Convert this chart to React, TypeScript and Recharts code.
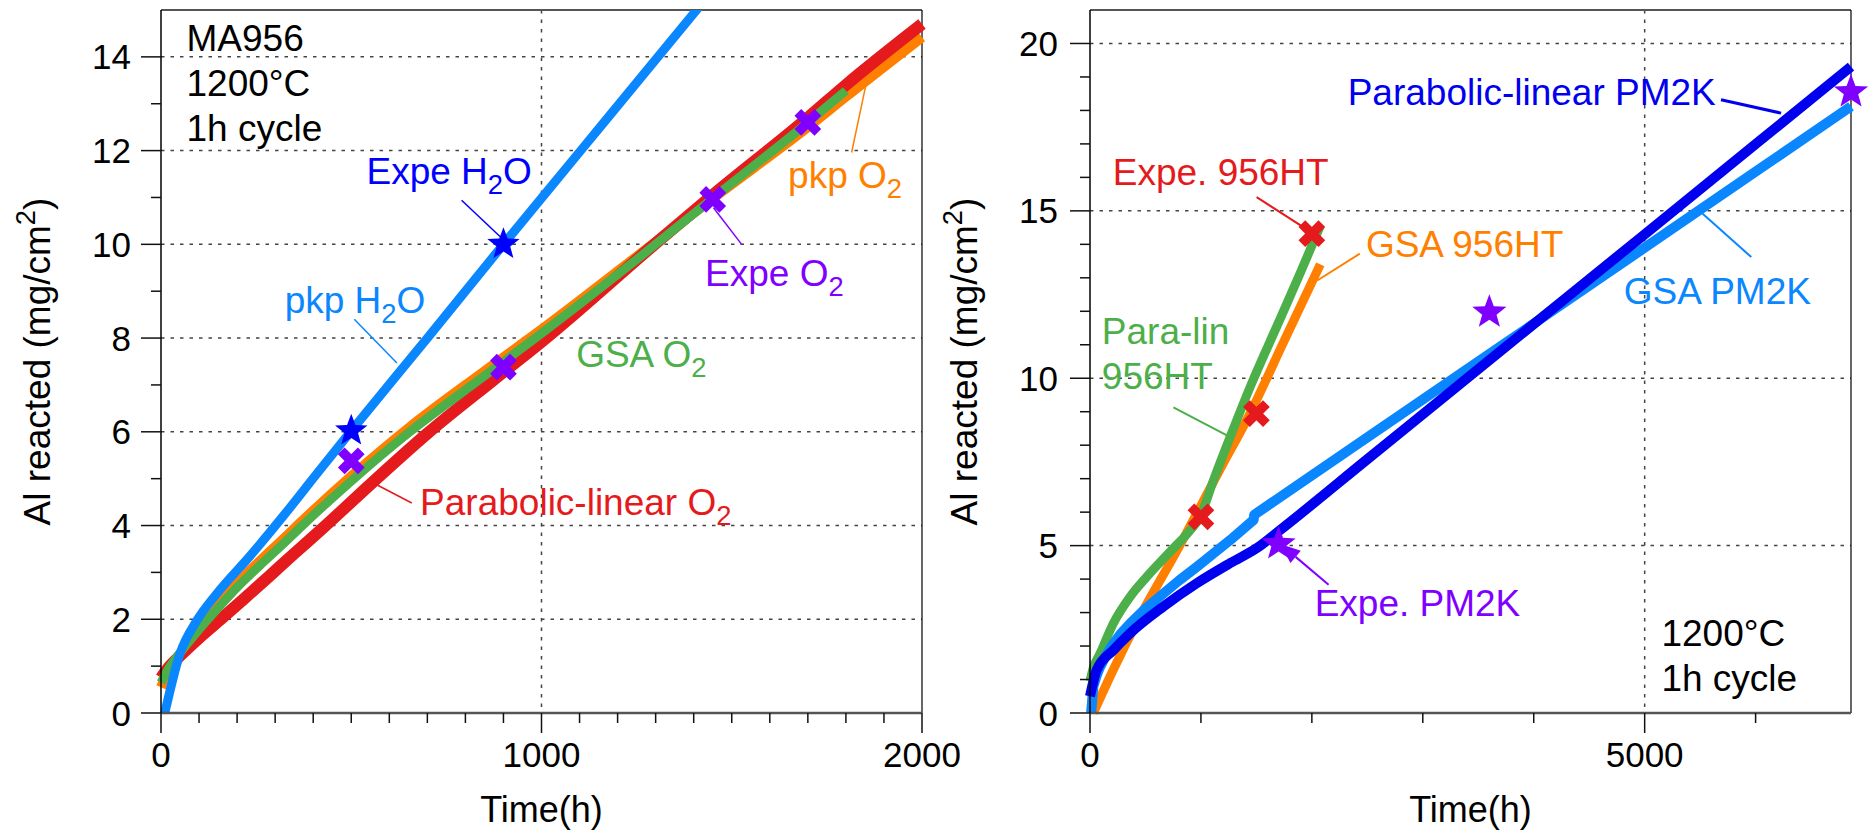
import React from "react";
import {
  ComposedChart,
  Line,
  Scatter,
  XAxis,
  YAxis,
  ReferenceLine,
  ReferenceDot,
  CartesianGrid,
} from "recharts";

const FONT = "'Liberation Sans', Arial, Helvetica, sans-serif";

const C_RED = "#E41A1C";
const C_ORANGE = "#FF7F00";
const C_GREEN = "#4DAF4A";
const C_LBLUE = "#0A86FF";
const C_DBLUE = "#0000EE";
const C_BLUE = "#0000FF";
const C_PURPLE = "#7F00FF";

// ---------------- Left panel (MA956) ----------------
const leftXTicks = [0, 100, 200, 300, 400, 500, 600, 700, 800, 900, 1000, 1100, 1200, 1300, 1400, 1500, 1600, 1700, 1800, 1900, 2000];
const leftXMajor = [0, 1000, 2000];
const leftYTicks = [0, 1, 2, 3, 4, 5, 6, 7, 8, 9, 10, 11, 12, 13, 14];
const leftYMajor = [0, 2, 4, 6, 8, 10, 12, 14];

const pkpH2OTime = [10, 50, 94, 146, 234, 321, 409, 500, 700, 900, 1100, 1300, 1450];
const pkpH2OVal = [0, 1.27, 1.97, 2.54, 3.35, 4.2, 5.1, 6.02, 8.0, 10.0, 11.97, 13.94, 15.42];

const paraLinO2Time = [0, 20, 50, 100, 160, 220, 286, 350, 422, 560, 698, 873, 1000, 1300, 1450, 1700, 1800, 2000];
const paraLinO2Val = [0.75, 0.97, 1.22, 1.6, 2.02, 2.45, 2.93, 3.4, 3.92, 4.95, 5.95, 7.1, 7.92, 10.02, 11.05, 12.7, 13.4, 14.7];

const gsaO2Time = [0, 20, 50, 100, 150, 200, 260, 320, 365, 500, 654, 843, 1000, 1300, 1450, 1700, 1800];
const gsaO2Val = [0.65, 0.95, 1.28, 1.78, 2.24, 2.68, 3.15, 3.6, 3.95, 4.95, 6.0, 7.15, 8.1, 10.0, 10.98, 12.6, 13.28];

const pkpO2Time = [0, 20, 50, 100, 150, 200, 260, 320, 365, 500, 654, 843, 1000, 1300, 1450, 1700, 1800, 2000];
const pkpO2Val = [0.55, 0.9, 1.25, 1.8, 2.3, 2.76, 3.24, 3.7, 4.05, 5.05, 6.1, 7.25, 8.18, 10.05, 10.98, 12.5, 13.15, 14.42];

const expeH2OTime = [500, 900];
const expeH2OVal = [6.02, 10.0];

const expeO2Time = [500, 900, 1450, 1700];
const expeO2Val = [5.38, 7.38, 10.96, 12.6];

// ---------------- Right panel (956HT / PM2K) ----------------
const rightXTicks = [0, 1000, 2000, 3000, 4000, 5000, 6000];
const rightXMajor = [0, 5000];
const rightYTicks = [0, 1, 2, 3, 4, 5, 6, 7, 8, 9, 10, 11, 12, 13, 14, 15, 16, 17, 18, 19, 20];
const rightYMajor = [0, 5, 10, 15, 20];
const rightXMax = 6860;

const paraLin956Time = [0, 30, 90, 211, 361, 512, 723, 903, 993, 1114, 1265, 1445, 1700, 1900, 2076];
const paraLin956Val = [0.95, 1.35, 1.77, 2.68, 3.47, 4.07, 4.82, 5.46, 5.86, 6.96, 8.26, 9.75, 11.67, 13.18, 14.55];

const gsa956Time = [30, 211, 421, 800, 1200, 1420, 1748, 2076];
const gsa956Val = [0, 1.3, 2.7, 4.95, 7.45, 8.8, 11.1, 13.4];

const gsaPM2KTime = [10, 30, 60, 90, 150, 211, 280, 361, 500, 662, 800, 964, 1100, 1265, 1475, 1480, 2500, 3700, 5000, 6000, 6860];
const gsaPM2KVal = [0, 0.8, 1.12, 1.37, 1.75, 2.07, 2.38, 2.67, 3.12, 3.57, 3.95, 4.37, 4.73, 5.17, 5.77, 5.92, 8.23, 10.95, 13.9, 16.17, 18.12];

const paraLinPM2KTime = [0, 60, 211, 361, 662, 964, 1265, 1506, 1716, 2500, 3700, 5000, 6000, 6860];
const paraLinPM2KVal = [0.5, 1.28, 1.88, 2.38, 3.18, 3.88, 4.48, 4.93, 5.47, 7.58, 10.81, 14.3, 16.99, 19.31];

const expe956Time = [1000, 1500, 2000];
const expe956Val = [5.86, 8.94, 14.32];

const expePM2KTime = [1700, 3600, 6860];
const expePM2KVal = [5.05, 11.97, 18.55];

const toPts = (t: number[], v: number[]) => t.map((x, i) => ({ x, y: v[i] }));

// ---------------- Annotations ----------------
const leftNotes = [
  { text: "MA956", x: 67, y: 14.13, color: "#000" },
  { text: "1200°C", x: 67, y: 13.16, color: "#000" },
  { text: "1h cycle", x: 67, y: 12.21, color: "#000" },
  { text: "Expe H_2O", x: 540, y: 11.28, color: C_BLUE },
  { text: "pkp H_2O", x: 325, y: 8.54, color: C_LBLUE },
  { text: "pkp O_2", x: 1648, y: 11.21, color: C_ORANGE },
  { text: "Expe O_2", x: 1430, y: 9.11, color: C_PURPLE },
  { text: "GSA O_2", x: 1091, y: 7.38, color: C_GREEN },
  { text: "Parabolic-linear O_2", x: 681, y: 4.23, color: C_RED },
];

const leftLeaders = [
  { x1: 790, y1: 10.94, x2: 893, y2: 10.15, color: C_BLUE, w: 1.5 },
  { x1: 508, y1: 8.4, x2: 620, y2: 7.47, color: C_LBLUE, w: 1.5 },
  { x1: 1815, y1: 11.96, x2: 1852, y2: 13.38, color: C_ORANGE, w: 1.5 },
  { x1: 1526, y1: 10.0, x2: 1452, y2: 10.78, color: C_PURPLE, w: 1.5 },
  { x1: 659, y1: 4.48, x2: 567, y2: 4.87, color: C_RED, w: 1.5 },
];

const rightNotes = [
  { text: "Parabolic-linear PM2K", x: 2323, y: 18.15, color: C_DBLUE },
  { text: "GSA PM2K", x: 4812, y: 12.22, color: C_LBLUE },
  { text: "Expe. 956HT", x: 205, y: 15.77, color: C_RED },
  { text: "GSA 956HT", x: 2487, y: 13.62, color: C_ORANGE },
  { text: "Para-lin", x: 107, y: 11.03, color: C_GREEN },
  { text: "956HT", x: 107, y: 9.68, color: C_GREEN },
  { text: "Expe. PM2K", x: 2025, y: 2.91, color: C_PURPLE },
  { text: "1200°C", x: 5151, y: 2.01, color: "#000" },
  { text: "1h cycle", x: 5151, y: 0.67, color: "#000" },
];

const rightLeaders = [
  { x1: 5688, y1: 18.32, x2: 6230, y2: 17.92, color: C_DBLUE, w: 3 },
  { x1: 5961, y1: 13.62, x2: 5523, y2: 14.91, color: C_LBLUE, w: 2 },
  { x1: 1502, y1: 15.41, x2: 1930, y2: 14.5, color: C_RED, w: 2 },
  { x1: 2432, y1: 13.72, x2: 2049, y2: 12.92, color: C_ORANGE, w: 2 },
  { x1: 752, y1: 9.13, x2: 1234, y2: 8.29, color: C_GREEN, w: 2 },
];

const rightArrow = { x1: 2151, y1: 3.83, x2: 1716, y2: 5.05, color: C_PURPLE, w: 2 };

// ---------------- helpers ----------------
function Rich({ s, fs }: { s: string; fs: number }) {
  const parts = s.split(/([_^]\d)/).filter((p) => p !== "");
  let cur = 0;
  return (
    <>
      {parts.map((p, i) => {
        if (p[0] === "_" || p[0] === "^") {
          const off = p[0] === "_" ? fs * 0.27 : -fs * 0.4;
          const dy = off - cur;
          cur = off;
          return (
            <tspan key={i} dy={dy} fontSize={fs * 0.74}>
              {p.slice(1)}
            </tspan>
          );
        }
        const dy = -cur;
        cur = 0;
        return (
          <tspan key={i} dy={dy}>
            {p}
          </tspan>
        );
      })}
    </>
  );
}

const NOTE_FS = 37;
const noteShape = (text: string, color: string) => (p: any) => (
  <text x={p.cx} y={p.cy} fill={color} fontSize={NOTE_FS} fontFamily={FONT}>
    <Rich s={text} fs={NOTE_FS} />
  </text>
);

const starPoints = (cx: number, cy: number, R: number, r: number) => {
  const pts: string[] = [];
  for (let i = 0; i < 10; i++) {
    const a = ((-90 + i * 36) * Math.PI) / 180;
    const rad = i % 2 === 0 ? R : r;
    pts.push(`${cx + rad * Math.cos(a)},${cy + rad * Math.sin(a)}`);
  }
  return pts.join(" ");
};

const starShape = (color: string, R: number) => (p: any) => (
  <polygon points={starPoints(p.cx, p.cy, R, R * 0.42)} fill={color} />
);

const crossShape = (color: string) => (p: any) => (
  <path
    d={`M${p.cx - 10},${p.cy - 10}L${p.cx + 10},${p.cy + 10}M${p.cx - 10},${p.cy + 10}L${p.cx + 10},${p.cy - 10}`}
    stroke={color}
    strokeWidth={9.5}
    fill="none"
  />
);

const arrowShape = (color: string, w: number) => (p: any) => {
  const { x1, y1, x2, y2 } = p;
  const dx = x2 - x1;
  const dy = y2 - y1;
  const len = Math.sqrt(dx * dx + dy * dy) || 1;
  const ux = dx / len;
  const uy = dy / len;
  const hl = 20;
  const hw = 8;
  const bx = x2 - ux * hl;
  const by = y2 - uy * hl;
  return (
    <g>
      <line x1={x1} y1={y1} x2={bx} y2={by} stroke={color} strokeWidth={w} />
      <polygon
        points={`${x2},${y2} ${bx - uy * hw},${by + ux * hw} ${bx + uy * hw},${by - ux * hw}`}
        fill={color}
      />
    </g>
  );
};

const XTick = (props: any) => {
  const { x, y, payload, majors } = props;
  const v = payload ? payload.value : 0;
  const major = majors.includes(v);
  return (
    <g>
      <line x1={x} x2={x} y1={y} y2={y + (major ? 20 : 10)} stroke="#111" strokeWidth={1.5} />
      {major && (
        <text x={x} y={y + 54} textAnchor="middle" fontSize={35} fontFamily={FONT} fill="#000">
          {v}
        </text>
      )}
    </g>
  );
};

const YTick = (props: any) => {
  const { x, y, payload, majors, gap } = props;
  const v = payload ? payload.value : 0;
  const major = majors.includes(v);
  return (
    <g>
      <line x1={x - (major ? 20 : 10)} x2={x} y1={y} y2={y} stroke="#111" strokeWidth={1.5} />
      {major && (
        <text x={x - gap} y={y + 12.5} textAnchor="end" fontSize={35} fontFamily={FONT} fill="#000">
          {v}
        </text>
      )}
    </g>
  );
};

const XTitle = (props: any) => {
  const vb = props.viewBox || { x: 161, y: 713, width: 761, height: 117 };
  return (
    <text x={vb.x + vb.width / 2} y={vb.y + 109} textAnchor="middle" fontSize={36} fontFamily={FONT} fill="#000">
      Time(h)
    </text>
  );
};

const YTitle = (props: any) => {
  const vb = props.viewBox || { x: 0, y: 10, width: 161, height: 703 };
  const cx = vb.x + props.bx;
  const cy = vb.y + vb.height / 2;
  return (
    <text
      transform={`translate(${cx},${cy}) rotate(-90)`}
      textAnchor="middle"
      fontSize={37}
      fontFamily={FONT}
      fill="#000"
    >
      <Rich s="Al reacted (mg/cm^2)" fs={37} />
    </text>
  );
};

const lineCommon = {
  type: "monotone" as const,
  dataKey: "y",
  dot: false,
  activeDot: false,
  isAnimationActive: false,
  strokeLinecap: "butt" as const,
  strokeLinejoin: "round" as const,
};

function LeftChart() {
  return (
    <ComposedChart width={1000} height={830} margin={{ top: 10, right: 78, bottom: 0, left: 0 }}>
      <CartesianGrid
        horizontalValues={[2, 4, 6, 8, 10, 12, 14]}
        verticalValues={[1000]}
        stroke="#444"
        strokeWidth={1.5}
        strokeDasharray="3.5 6"
        fill="none"
      />
      <XAxis
        type="number"
        dataKey="x"
        domain={[0, 2000]}
        ticks={leftXTicks}
        interval={0}
        tickSize={0}
        tickMargin={0}
        tickLine={false}
        axisLine={{ stroke: "#555", strokeWidth: 2.5 }}
        height={117}
        tick={<XTick majors={leftXMajor} />}
        label={<XTitle />}
      />
      <YAxis
        type="number"
        domain={[0, 15]}
        allowDataOverflow
        ticks={leftYTicks}
        interval={0}
        tickSize={0}
        tickMargin={0}
        tickLine={false}
        axisLine={{ stroke: "#000", strokeWidth: 1.5 }}
        width={161}
        tick={<YTick majors={leftYMajor} gap={30} />}
        label={<YTitle bx={50} />}
      />
      <ReferenceLine y={15} stroke="#555" strokeWidth={2} />
      <ReferenceLine x={2000} stroke="#000" strokeWidth={1.2} />

      <Line {...lineCommon} data={toPts(pkpO2Time, pkpO2Val)} stroke={C_ORANGE} strokeWidth={10} />
      <Line {...lineCommon} data={toPts(paraLinO2Time, paraLinO2Val)} stroke={C_RED} strokeWidth={12} />
      <Line {...lineCommon} data={toPts(gsaO2Time, gsaO2Val)} stroke={C_GREEN} strokeWidth={9} />
      <Line {...lineCommon} data={toPts(pkpH2OTime, pkpH2OVal)} stroke={C_LBLUE} strokeWidth={9} />

      <Scatter data={toPts(expeO2Time, expeO2Val)} dataKey="y" isAnimationActive={false} shape={crossShape(C_PURPLE)} />
      <Scatter data={toPts(expeH2OTime, expeH2OVal)} dataKey="y" isAnimationActive={false} shape={starShape(C_BLUE, 17)} />

      {leftLeaders.map((l, i) => (
        <ReferenceLine
          key={"ll" + i}
          segment={[{ x: l.x1, y: l.y1 }, { x: l.x2, y: l.y2 }]}
          stroke={l.color}
          strokeWidth={l.w}
          ifOverflow="visible"
        />
      ))}
      {leftNotes.map((n, i) => (
        <ReferenceDot key={"ln" + i} x={n.x} y={n.y} r={0} ifOverflow="visible" shape={noteShape(n.text, n.color)} />
      ))}
    </ComposedChart>
  );
}

function RightChart() {
  return (
    <ComposedChart width={981} height={830} margin={{ top: 10, right: 20, bottom: 0, left: 0 }}>
      <CartesianGrid
        horizontalValues={[5, 10, 15, 20]}
        verticalValues={[5000]}
        stroke="#444"
        strokeWidth={1.5}
        strokeDasharray="3.5 6"
        fill="none"
      />
      <XAxis
        type="number"
        dataKey="x"
        domain={[0, rightXMax]}
        ticks={rightXTicks}
        interval={0}
        tickSize={0}
        tickMargin={0}
        tickLine={false}
        axisLine={{ stroke: "#555", strokeWidth: 2.5 }}
        height={117}
        tick={<XTick majors={rightXMajor} />}
        label={<XTitle />}
      />
      <YAxis
        type="number"
        domain={[0, 21]}
        ticks={rightYTicks}
        interval={0}
        tickSize={0}
        tickMargin={0}
        tickLine={false}
        axisLine={{ stroke: "#000", strokeWidth: 1.5 }}
        width={200}
        tick={<YTick majors={rightYMajor} gap={32} />}
        label={<YTitle bx={87} />}
      />
      <ReferenceLine y={21} stroke="#555" strokeWidth={2} />
      <ReferenceLine x={rightXMax} stroke="#000" strokeWidth={1.2} />

      <Line {...lineCommon} data={toPts(gsa956Time, gsa956Val)} stroke={C_ORANGE} strokeWidth={9} />
      <Line {...lineCommon} data={toPts(paraLin956Time, paraLin956Val)} stroke={C_GREEN} strokeWidth={9} />
      <Line {...lineCommon} type="linear" data={toPts(gsaPM2KTime, gsaPM2KVal)} stroke={C_LBLUE} strokeWidth={10} />
      <Scatter data={toPts(expePM2KTime, expePM2KVal)} dataKey="y" isAnimationActive={false} shape={starShape(C_PURPLE, 18)} />
      <Line {...lineCommon} data={toPts(paraLinPM2KTime, paraLinPM2KVal)} stroke={C_DBLUE} strokeWidth={10} />
      <Scatter data={toPts(expe956Time, expe956Val)} dataKey="y" isAnimationActive={false} shape={crossShape(C_RED)} />

      {rightLeaders.map((l, i) => (
        <ReferenceLine
          key={"rl" + i}
          segment={[{ x: l.x1, y: l.y1 }, { x: l.x2, y: l.y2 }]}
          stroke={l.color}
          strokeWidth={l.w}
          ifOverflow="visible"
        />
      ))}
      <ReferenceLine
        segment={[{ x: rightArrow.x1, y: rightArrow.y1 }, { x: rightArrow.x2, y: rightArrow.y2 }]}
        stroke={rightArrow.color}
        strokeWidth={rightArrow.w}
        ifOverflow="visible"
        shape={arrowShape(rightArrow.color, rightArrow.w)}
      />
      {rightNotes.map((n, i) => (
        <ReferenceDot key={"rn" + i} x={n.x} y={n.y} r={0} ifOverflow="visible" shape={noteShape(n.text, n.color)} />
      ))}
    </ComposedChart>
  );
}

export default function App() {
  return (
    <div
      style={{
        position: "absolute",
        left: 0,
        top: 0,
        width: 1871,
        height: 830,
        background: "#fff",
        overflow: "hidden",
        fontFamily: FONT,
      }}
    >
      <div style={{ position: "absolute", left: 0, top: 0 }}>
        <LeftChart />
      </div>
      <div style={{ position: "absolute", left: 890, top: 0 }}>
        <RightChart />
      </div>
    </div>
  );
}
